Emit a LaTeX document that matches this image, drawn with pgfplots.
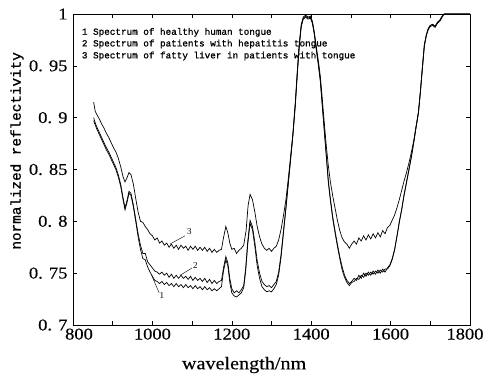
\documentclass[border=0pt]{standalone}
\usepackage{fontspec}
\setmainfont{Liberation Serif}
\newfontfamily\monofont[FakeBold=1]{Liberation Mono}
\newfontfamily\tickfont[FakeStretch=1.12,FakeBold=0.3]{Liberation Serif}
\usepackage{pgfplots}
\usepackage{pgfplotstable}
\pgfplotsset{compat=1.18}

\pgfplotstableread{
x y
852 0.915
856 0.906
860 0.903
866 0.899
872 0.894
878 0.890
884 0.885
890 0.881
896 0.876
902 0.871
908 0.867
914 0.861
920 0.853
926 0.843
931 0.838
936 0.842
941 0.847
946 0.845
952 0.836
958 0.822
964 0.809
970 0.800
976 0.799
982 0.795
988 0.792
994 0.788
1000 0.786
1006 0.782
1012 0.784
1018 0.779
1024 0.781
1030 0.777
1036 0.779
1042 0.775
1048 0.778
1054 0.774
1060 0.777
1066 0.773
1072 0.777
1078 0.774
1084 0.776
1090 0.772
1096 0.776
1102 0.773
1108 0.776
1114 0.772
1120 0.775
1126 0.772
1132 0.775
1138 0.771
1144 0.774
1150 0.770
1156 0.773
1162 0.770
1168 0.772
1174 0.773
1179 0.784
1185 0.795
1190 0.789
1195 0.779
1200 0.773
1206 0.774
1212 0.769
1218 0.772
1224 0.774
1230 0.777
1236 0.791
1241 0.815
1246 0.826
1252 0.821
1258 0.809
1264 0.795
1270 0.785
1276 0.778
1282 0.774
1288 0.772
1294 0.774
1300 0.771
1306 0.774
1312 0.776
1318 0.782
1324 0.792
1330 0.805
1336 0.820
1342 0.840
1348 0.862
1354 0.885
1360 0.915
1365 0.945
1370 0.972
1375 0.990
1380 0.997
1386 0.999
1392 0.997
1398 0.998
1403 0.993
1408 0.982
1413 0.968
1418 0.955
1423 0.940
1428 0.918
1433 0.895
1438 0.873
1443 0.854
1448 0.839
1454 0.825
1460 0.813
1466 0.801
1472 0.791
1478 0.784
1484 0.780
1490 0.778
1496 0.774
1502 0.778
1508 0.781
1514 0.778
1520 0.784
1526 0.781
1532 0.786
1538 0.782
1544 0.787
1550 0.783
1556 0.788
1562 0.784
1568 0.789
1574 0.785
1580 0.791
1586 0.788
1592 0.794
1598 0.796
1604 0.801
1610 0.806
1616 0.813
1622 0.821
1628 0.830
1634 0.839
1640 0.847
1646 0.856
1652 0.866
1658 0.877
1664 0.891
1670 0.905
1675 0.925
1680 0.948
1685 0.970
1690 0.980
1695 0.986
1700 0.989
1706 0.990
1712 0.988
1718 0.992
1724 0.994
1730 0.998
1735 1.000
1800 1.000
}\curvethree

\pgfplotstableread{
x y
852 0.900
856 0.895
860 0.891
866 0.886
872 0.881
878 0.876
884 0.871
890 0.867
896 0.862
902 0.857
908 0.852
914 0.845
920 0.836
926 0.823
931 0.813
936 0.820
941 0.829
946 0.827
952 0.816
958 0.802
964 0.788
970 0.777
976 0.769
982 0.769
988 0.761
994 0.758
1000 0.755
1006 0.752
1012 0.751
1018 0.749
1024 0.751
1030 0.748
1036 0.750
1042 0.746
1048 0.749
1054 0.745
1060 0.748
1066 0.745
1072 0.748
1078 0.745
1084 0.747
1090 0.744
1096 0.747
1102 0.743
1108 0.746
1114 0.743
1120 0.745
1126 0.742
1132 0.745
1138 0.741
1144 0.744
1150 0.740
1156 0.743
1162 0.740
1168 0.742
1174 0.743
1179 0.755
1185 0.766
1190 0.760
1195 0.745
1200 0.735
1206 0.731
1212 0.733
1218 0.731
1224 0.734
1230 0.738
1235 0.755
1240 0.780
1246 0.801
1252 0.795
1258 0.780
1264 0.762
1270 0.750
1276 0.742
1282 0.739
1288 0.737
1294 0.738
1300 0.736
1306 0.739
1312 0.742
1318 0.751
1324 0.768
1330 0.790
1336 0.812
1342 0.836
1348 0.860
1354 0.884
1360 0.913
1365 0.943
1370 0.970
1375 0.989
1380 0.996
1386 0.998
1392 0.996
1398 0.997
1403 0.992
1408 0.981
1413 0.966
1418 0.952
1423 0.936
1428 0.912
1433 0.888
1438 0.864
1443 0.840
1448 0.823
1454 0.805
1460 0.791
1466 0.778
1472 0.766
1478 0.756
1484 0.748
1490 0.743
1496 0.740
1502 0.742
1508 0.745
1514 0.743
1520 0.748
1526 0.745
1532 0.750
1538 0.747
1544 0.751
1550 0.748
1556 0.752
1562 0.749
1568 0.753
1574 0.750
1580 0.754
1586 0.751
1592 0.755
1598 0.758
1604 0.764
1610 0.773
1616 0.786
1622 0.800
1628 0.812
1634 0.826
1640 0.838
1646 0.850
1652 0.862
1658 0.876
1664 0.891
1670 0.905
1675 0.925
1680 0.948
1685 0.970
1690 0.980
1695 0.986
1700 0.989
1706 0.990
1712 0.988
1718 0.992
1724 0.994
1730 0.998
1735 1.000
1800 1.000
}\curvetwo

\pgfplotstableread{
x y
852 0.897
856 0.893
860 0.889
866 0.884
872 0.879
878 0.874
884 0.869
890 0.865
896 0.860
902 0.855
908 0.850
914 0.843
920 0.834
926 0.821
931 0.811
936 0.818
941 0.827
946 0.825
952 0.814
958 0.800
964 0.785
970 0.773
976 0.764
982 0.763
988 0.756
994 0.751
1000 0.747
1006 0.743
1012 0.742
1018 0.740
1024 0.742
1030 0.739
1036 0.741
1042 0.738
1048 0.740
1054 0.737
1060 0.740
1066 0.737
1072 0.739
1078 0.736
1084 0.739
1090 0.736
1096 0.738
1102 0.735
1108 0.738
1114 0.735
1120 0.737
1126 0.734
1132 0.737
1138 0.734
1144 0.736
1150 0.733
1156 0.735
1162 0.733
1168 0.735
1174 0.737
1179 0.752
1185 0.763
1190 0.757
1195 0.741
1200 0.731
1206 0.728
1212 0.727
1218 0.729
1224 0.731
1230 0.736
1235 0.752
1240 0.777
1246 0.798
1252 0.792
1258 0.776
1264 0.757
1270 0.745
1276 0.737
1282 0.734
1288 0.732
1294 0.733
1300 0.732
1306 0.735
1312 0.739
1318 0.748
1324 0.765
1330 0.788
1336 0.811
1342 0.835
1348 0.859
1354 0.883
1360 0.912
1365 0.942
1370 0.969
1375 0.988
1380 0.995
1386 0.997
1392 0.995
1398 0.996
1403 0.991
1408 0.980
1413 0.965
1418 0.951
1423 0.935
1428 0.911
1433 0.887
1438 0.863
1443 0.838
1448 0.821
1454 0.803
1460 0.789
1466 0.776
1472 0.764
1478 0.753
1484 0.746
1490 0.741
1496 0.738
1502 0.741
1508 0.742
1514 0.745
1520 0.744
1526 0.748
1532 0.746
1538 0.750
1544 0.748
1550 0.751
1556 0.749
1562 0.752
1568 0.750
1574 0.753
1580 0.751
1586 0.754
1592 0.754
1598 0.757
1604 0.763
1610 0.772
1616 0.785
1622 0.799
1628 0.811
1634 0.825
1640 0.837
1646 0.849
1652 0.861
1658 0.875
1664 0.890
1670 0.904
1675 0.924
1680 0.947
1685 0.969
1690 0.979
1695 0.985
1700 0.988
1706 0.989
1712 0.987
1718 0.991
1724 0.993
1730 0.997
1735 1.000
1800 1.000
}\curveone

\begin{document}
\begin{tikzpicture}
\path[use as bounding box] (-73pt,-49pt) rectangle (410pt,325pt);
\begin{axis}[
  at={(0,0)}, anchor=south west,
  scale only axis,
  width=397pt, height=311pt,
  xmin=800, xmax=1800, ymin=0.7, ymax=1,
  xtick={800,1000,1200,1400,1600,1800},
  xticklabels={\hspace*{12pt}800,1000,1200,1400,1600,1800\hspace*{10pt}},
  minor xtick={900,1100,1300,1500,1700},
  ytick={0.7,0.75,0.8,0.85,0.9,0.95,1},
  yticklabels={{0. 7},{0. 75},{0. 8},{0. 85},{0. 9},{0. 95},{1}},
  tick align=inside,
  major tick length=4pt, minor tick length=4pt,
  tick style={black, line width=0.5pt},
  axis line style={line width=0.6pt},
  ticklabel style={font=\tickfont\fontsize{16.5}{16.5}\selectfont},
  yticklabel style={xshift=-2pt},
  xlabel={wavelength/nm},
  xlabel style={font=\tickfont\fontsize{18}{18}\selectfont, at={(axis description cs:0.431,-0.1286)}, anchor=center},
  ylabel={normalized reflectivity},
  ylabel style={font=\monofont\fontsize{14.3}{14.3}\selectfont, at={(axis description cs:-0.141,0.56)}, anchor=center},
  clip=true,
]
\addplot[black, line width=0.7pt] table {\curvethree};
\addplot[black, line width=0.7pt] table {\curvetwo};
\addplot[black, line width=0.7pt] table {\curveone};

\draw[black, line width=0.4pt] (axis cs:1044,0.778) -- (axis cs:1082,0.786);
\node[font=\fontsize{9}{9}\selectfont, inner sep=0pt] at (axis cs:1093,0.790) {3};
\draw[black, line width=0.4pt] (axis cs:1070,0.748) -- (axis cs:1100,0.755);
\node[font=\fontsize{9}{9}\selectfont, inner sep=0pt] at (axis cs:1108,0.757) {2};
\draw[black, line width=0.4pt] (axis cs:998,0.748) -- (axis cs:1017,0.731);
\node[font=\fontsize{9}{9}\selectfont, inner sep=0pt] at (axis cs:1024,0.728) {1};

\node[anchor=west, inner sep=0pt, font=\monofont\fontsize{9.3}{9.3}\selectfont] at (rel axis cs:0.022,0.941) {1 Spectrum of healthy human tongue};
\node[anchor=west, inner sep=0pt, font=\monofont\fontsize{9.3}{9.3}\selectfont] at (rel axis cs:0.022,0.9035) {2 Spectrum of patients with hepatitis tongue};
\node[anchor=west, inner sep=0pt, font=\monofont\fontsize{9.3}{9.3}\selectfont] at (rel axis cs:0.022,0.865) {3 Spectrum of fatty liver in patients with tongue};
\end{axis}
\end{tikzpicture}
\end{document}
